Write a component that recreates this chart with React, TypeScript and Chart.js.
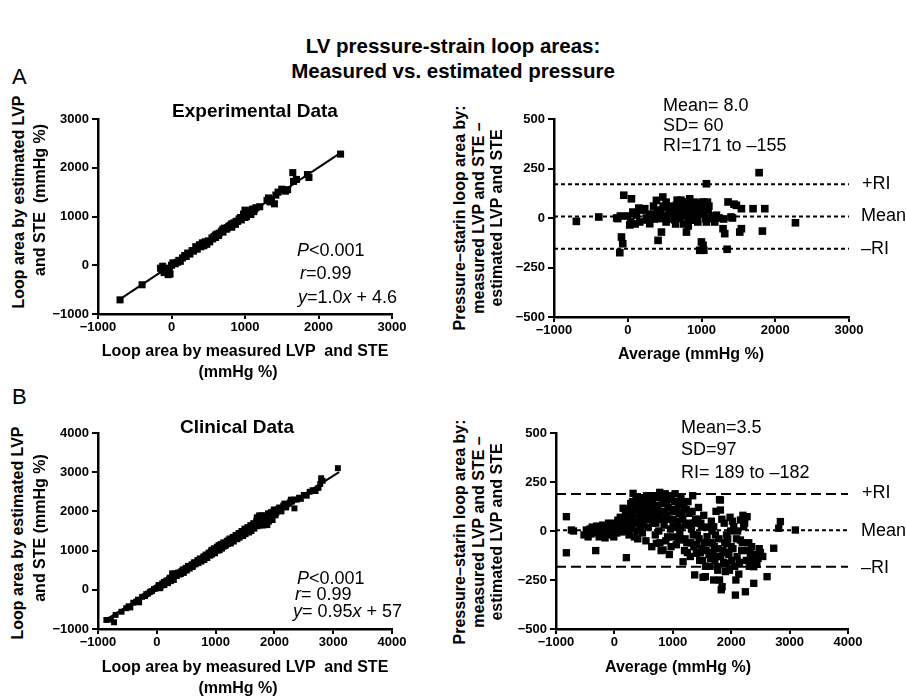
import React, { useEffect, useRef } from "react";
import { Chart, registerables } from "chart.js";

Chart.register(...registerables);

const FONT = "'Liberation Sans', Arial, Helvetica, sans-serif";

// ---------- tick labels ----------
const expTicks = [-1000, 0, 1000, 2000, 3000];
const diffTicks = [-500, -250, 0, 250, 500];
const clinTicks = [-1000, 0, 1000, 2000, 3000, 4000];

// ---------- A: experimental, measured (x) vs estimated (y) ----------
const expMeasuredVsEstimated: [number, number][] = [
  [-700, -710], [-400, -400], [-150, -60], [-120, -20], [-100, -150], [-80, -110], [-60, -90],
  [-50, -150], [-20, -180], [-45, -192], [0, 0], [20, 50], [50, 30], [80, 60], [100, 100],
  [120, 80], [150, 150], [180, 200], [200, 180], [220, 250], [250, 230], [280, 300], [300, 290],
  [330, 380], [350, 330], [380, 420], [400, 380], [420, 460], [440, 400], [460, 480], [480, 430],
  [500, 500], [520, 480], [550, 560], [580, 590], [600, 570], [620, 640], [650, 660], [680, 700],
  [700, 680], [720, 760], [750, 740], [780, 800], [800, 820], [820, 780], [850, 870], [870, 840],
  [900, 900], [920, 950], [950, 930], [980, 1050], [1000, 980], [1000, 1130], [1020, 1000],
  [1050, 1080], [1080, 1040], [1100, 1150], [1120, 1100], [1150, 1180], [1200, 1200], [1300, 1330],
  [1320, 1380], [1340, 1300], [1360, 1350], [1400, 1260], [1420, 1440], [1450, 1500], [1500, 1560],
  [1550, 1520], [1580, 1550], [1650, 1900], [1660, 1720], [1700, 1760], [1850, 1860], [1870, 1800],
  [2300, 2280], [560, 540], [600, 620], [640, 610], [700, 740], [760, 770], [820, 850], [880, 900],
  [940, 980], [1020, 1060], [1070, 1120], [1130, 1150], [-130, -100], [-30, -60],
];
const expFitLine: [number, number][] = [[-700, -695], [2300, 2305]];

// ---------- A: experimental, average (x) vs difference (y) ----------
const expAvgVsDiff: [number, number][] = [
  [-697, -17], [-393, 5], [-136, -3], [-108, -175], [-85, -96], [-68, -130], [-54, 115], [50, 97],
  [27, -35], [0, 10], [40, -20], [70, 30], [118, 15], [163, -20], [200, 40], [230, 47], [260, -10],
  [298, -29], [298, 14], [330, 20], [360, -5], [389, 89], [400, 30], [411, -113], [434, -3],
  [457, -71], [475, 106], [450, 40], [500, 10], [520, -20], [545, 55], [570, 30], [600, 0],
  [620, 60], [640, -10], [660, 64], [680, 25], [705, -3], [720, 90], [740, 40], [750, 81],
  [760, -30], [780, 10], [796, -71], [800, 50], [820, -40], [840, 97], [860, 20], [880, -10],
  [900, 60], [932, 30], [950, -20], [976, -163], [999, -121], [1000, 75], [1021, 81], [1021, -138],
  [1031, -163], [1044, 30], [1060, -5], [1067, -20], [1067, 173], [1090, 40], [1112, -3],
  [1150, 10], [1202, 14], [1240, 0], [1292, -54], [1315, -79], [1347, -158], [1360, 81], [1400, 5],
  [1440, 70], [1473, 64], [1519, -71], [1541, 47], [1541, -54], [1699, 47], [1781, 229],
  [1826, -66], [1858, 47], [2274, -24], [-150, 0], [-100, 10], [100, -30], [150, 50], [250, 0],
  [350, 60], [550, -5], [650, -30], [700, 70], [850, -10], [950, 40], [1100, 60], [1180, -20],
  [1300, -5], [1420, 0], [480, 60], [520, 80], [560, 20], [590, 50], [630, 30], [670, 90],
  [690, 10], [710, 50], [730, 20], [770, 60], [790, 30], [810, 80], [830, 0], [870, 60], [890, 30],
  [910, 80], [940, 0], [960, 60], [980, 20], [1030, 40], [1080, 80],
];
const expMean = 8.0;
const expUpperRI = 171;
const expLowerRI = -155;

// ---------- B: clinical, measured (x) vs estimated (y) ----------
const clinMeasuredVsEstimated: [number, number][] = [
  [-858, -769], [-780, -760], [-727, -829], [-700, -640], [-600, -560], [-520, -470], [-480, -420],
  [-450, -450], [-400, -330], [-350, -300], [-320, -250], [-300, -320], [-250, -180], [-200, -160],
  [-180, -110], [-150, -100], [-120, -60], [-100, -40], [-80, -30], [-50, 20], [-20, 30], [0, 50],
  [20, 60], [50, 120], [80, 110], [100, 150], [120, 200], [150, 180], [180, 240], [200, 230],
  [220, 310], [250, 280], [260, 420], [280, 300], [300, 360], [320, 380], [350, 410], [380, 390],
  [400, 450], [420, 480], [450, 470], [480, 520], [500, 540], [520, 560], [550, 600], [580, 580],
  [600, 640], [620, 620], [650, 700], [680, 690], [700, 720], [720, 760], [750, 760], [780, 800],
  [800, 790], [820, 860], [850, 850], [870, 900], [900, 920], [920, 980], [940, 900], [960, 1000],
  [980, 960], [1000, 1040], [1020, 1100], [1040, 1000], [1060, 1060], [1080, 1130], [1100, 1080],
  [1120, 1160], [1140, 1100], [1160, 1200], [1180, 1150], [1200, 1220], [1220, 1280], [1250, 1230],
  [1280, 1300], [1300, 1260], [1320, 1350], [1350, 1320], [1380, 1400], [1400, 1380], [1420, 1440],
  [1450, 1420], [1480, 1460], [1500, 1520], [1520, 1480], [1550, 1540], [1580, 1600], [1600, 1560],
  [1620, 1640], [1650, 1600], [1680, 1660], [1700, 1850], [1720, 1700], [1750, 1720], [1780, 1900],
  [1800, 1760], [1820, 1700], [1850, 1800], [1880, 1650], [1900, 1820], [1920, 1900], [1950, 1820],
  [1980, 2000], [2000, 1950], [2020, 1900], [2050, 2000], [2080, 2100], [2100, 2050], [2150, 2150],
  [2200, 2100], [2250, 2200], [2280, 2300], [2300, 2250], [2341, 2077], [2380, 2300], [2420, 2350],
  [2500, 2420], [2550, 2400], [2600, 2500], [2700, 2520], [2780, 2700], [2795, 2846], [2820, 2780],
  [3080, 3103],
  [30, 120], [60, 40], [90, 160], [130, 120], [160, 230], [190, 170], [210, 280], [240, 220],
  [270, 330], [290, 250], [310, 420], [340, 350], [360, 440], [390, 430], [410, 400], [440, 520],
  [460, 430], [490, 560], [510, 490], [530, 610], [560, 540], [590, 650], [610, 580], [630, 700],
  [660, 650], [690, 760], [710, 680], [730, 800], [760, 720], [790, 850], [810, 760], [830, 900],
  [860, 810], [880, 950], [910, 870], [930, 1020], [950, 960], [970, 1060], [990, 930], [1010, 1000],
  [1030, 1060], [1050, 1140], [1070, 1010], [1090, 1170], [1110, 1050], [1130, 1210], [1170, 1120],
  [1190, 1250], [1210, 1170], [1240, 1310], [1260, 1180], [1290, 1350], [1310, 1230], [1340, 1400],
  [1370, 1290], [1390, 1450], [1410, 1330], [1440, 1500], [1470, 1370], [1490, 1560], [1510, 1420],
  [1540, 1600], [1570, 1460], [1590, 1650], [1610, 1500], [1640, 1700], [1660, 1560], [1690, 1760],
  [1710, 1620], [1740, 1900], [1760, 1640], [1790, 1800], [1810, 1640], [1840, 1900], [1860, 1720],
  [1890, 1950], [1910, 1740], [1940, 1980], [1970, 1780], [1990, 2050], [2030, 1960], [2060, 2060],
  [2120, 2000], [2170, 2200], [2220, 2180], [2270, 2250], [2330, 2300], [2450, 2320], [2650, 2540],
  [2750, 2600],
];
const clinFitLine: [number, number][] = [[-800, -703], [3100, 3002]];

// ---------- B: clinical, average (x) vs difference (y) ----------
const clinAvgVsDiff: [number, number][] = [
  [-822, 73], [-822, -111], [-736, 5], [-700, 0], [-520, -20], [-480, 5], [-450, -30], [-420, 10],
  [-400, -15], [-380, 20], [-350, -5], [-320, -100], [-300, 25], [-280, -10], [-250, 15], [-220, -25],
  [-200, 30], [-180, 0], [-150, 20], [-120, -15], [-100, 40], [-80, 10], [-60, -20], [-40, 35],
  [-20, 0], [0, 25], [20, 40], [40, -10], [60, 55], [80, 20], [100, 70], [120, -5], [140, 35],
  [149, 116], [149, 56], [170, 0], [190, 85], [205, -136], [210, 30], [230, 110], [250, -20],
  [260, 60], [280, 140], [300, 10], [320, 192], [320, 90], [340, -30], [360, 50], [380, 120],
  [400, -40], [420, 70], [433, 141], [440, 20], [460, 170], [480, -10], [490, 100], [500, 50],
  [520, 150], [540, -50], [560, 80], [580, 20], [605, 90], [620, 180], [640, -80], [660, 40],
  [680, 130], [700, -20], [719, -63], [730, 100], [750, 170], [760, 0], [776, 197], [790, 60],
  [800, -100], [820, 140], [833, -97], [850, 30], [870, 190], [880, -50], [900, 80], [920, 120],
  [940, -120], [960, 10], [980, 160], [1000, -30], [1005, 22], [1020, 100], [1040, 190], [1060, -70],
  [1080, 50], [1100, 140], [1120, -10], [1140, 170], [1160, 80], [1176, -157], [1176, -46],
  [1190, 120], [1200, -100], [1220, 30], [1240, -60], [1260, 150], [1290, 90], [1300, -130],
  [1320, 10], [1340, 180], [1360, -80], [1375, -224], [1390, 60], [1404, -114], [1420, -20],
  [1440, 120], [1460, -150], [1480, 40], [1500, -90], [1518, -236], [1530, 80], [1558, -233],
  [1560, -180], [1587, -29], [1600, 20], [1620, -120], [1644, -114], [1660, 50], [1680, -60],
  [1700, -250], [1700, 22], [1720, -150], [1740, 100], [1758, -182], [1770, -200], [1790, -40],
  [1800, 160], [1815, 158], [1815, 107], [1830, -300], [1844, -284], [1860, -100], [1880, 40],
  [1901, -207], [1920, -20], [1929, -63], [1929, -165], [1960, -120], [1980, 70], [2000, -80],
  [2020, 50], [2043, 22], [2060, -180], [2072, -327], [2090, -40], [2101, -131], [2130, -220],
  [2158, 56], [2158, -46], [2180, -100], [2200, 80], [2214, 22], [2243, -310], [2260, -150],
  [2272, 73], [2300, -60], [2329, -114], [2358, -148], [2386, -182], [2386, -267], [2420, -120],
  [2460, -140], [2500, -110], [2540, -130], [2614, -233], [2728, -88], [2814, 14], [2842, 48],
  [3099, 5],
  [210, 80], [240, 20], [270, 100], [290, 60], [310, 150], [330, 40], [350, 110], [370, 170],
  [390, 0], [410, 130], [430, 60], [450, 100], [470, 30], [510, 120], [530, 70], [550, 180],
  [570, 130], [590, 60], [610, 150], [630, 100], [650, 160], [670, 70], [690, 180], [710, 40],
  [740, 130], [770, 90], [780, -60], [810, 60], [840, 170], [860, 100], [890, 150], [910, -30],
  [930, 60], [950, 180], [970, -80], [990, 110], [1010, 60], [1030, 150], [1050, 20], [1070, 110],
  [1090, -40], [1110, 90], [1130, 20], [1150, 150], [1170, 60], [1210, -40], [1230, 110],
  [1250, -110], [1270, 40], [1310, -60], [1330, 100], [1350, -20], [1370, 40], [1410, -70],
  [1430, 60], [1450, -40], [1470, -110], [1490, 20], [1510, -150], [1540, -60], [1570, -100],
  [1610, -60], [1630, -180], [1650, -140], [1670, 0], [1690, -110], [1710, -80], [1730, -20],
  [1750, -130], [1780, -90], [1800, -250], [1820, -130], [1840, 60], [1870, -160], [1890, -60],
  [1910, -110], [1940, -40], [1970, -200], [1990, 0], [2010, -150], [2030, -90], [2080, -250],
  [2110, 0], [2140, -160], [2190, -60], [2230, 40], [2280, -100], [2310, -180], [2350, -80],
  [2440, -170], [2480, -90], [-10, -30], [-60, 15], [-260, -30], [-160, -35],
];
const clinMean = 3.5;
const clinUpperRI = 189;
const clinLowerRI = -182;

// ---------- helpers ----------
const pts = (arr: [number, number][]) => arr.map(([x, y]) => ({ x, y }));

const scatterSet = (arr: [number, number][], r: number) => ({
  type: "scatter",
  data: pts(arr),
  pointStyle: "rect",
  pointRadius: r,
  pointHoverRadius: r,
  backgroundColor: "#000",
  borderColor: "#000",
  borderWidth: 0,
  showLine: false,
  order: 2,
});

const lineSet = (arr: [number, number][], dash: number[], width = 2) => ({
  type: "line",
  data: pts(arr),
  borderColor: "#000",
  borderWidth: width,
  borderDash: dash,
  pointRadius: 0,
  pointHoverRadius: 0,
  fill: false,
  tension: 0,
  order: 1,
});

const hLine = (y: number, ticks: number[], dash: number[]) =>
  lineSet([[ticks[0], y], [ticks[ticks.length - 1], y]], dash, 2);

type Area = { l: number; t: number; r: number; b: number };
const YW = 62;
const XH = 30;
const PT = 12;
const PR = 26;

function Panel({ area, xTicks, yTicks, datasets }: { area: Area; xTicks: number[]; yTicks: number[]; datasets: any[] }) {
  const ref = useRef<HTMLCanvasElement | null>(null);
  const w = area.r - area.l + YW + PR;
  const h = area.b - area.t + PT + XH;
  useEffect(() => {
    if (!ref.current) return;
    const fmt = (v: any) => {
      const n = Number(v);
      return n < 0 ? "\u2212" + Math.abs(n) : String(n);
    };
    const axis = (ticks: number[], isX: boolean) => ({
      type: "linear",
      min: ticks[0],
      max: ticks[ticks.length - 1],
      afterBuildTicks: (s: any) => {
        s.ticks = ticks.map((v) => ({ value: v }));
      },
      afterFit: (s: any) => {
        if (isX) s.height = XH;
        else s.width = YW;
      },
      grid: {
        display: true,
        drawOnChartArea: false,
        drawTicks: true,
        tickLength: isX ? 5 : 6,
        color: "#000",
        lineWidth: 2,
      },
      border: { display: true, color: "#000", width: 2.5 },
      ticks: {
        color: "#000",
        font: { family: FONT, size: 13, weight: "bold" },
        padding: isX ? 1 : 3,
        maxRotation: 0,
        autoSkip: false,
        callback: fmt,
      },
    });
    const chart = new Chart(ref.current, {
      type: "scatter",
      data: { datasets },
      options: {
        animation: false,
        responsive: false,
        devicePixelRatio: 1,
        layout: { padding: { top: PT, right: PR, left: 0, bottom: 0 } },
        plugins: { legend: { display: false }, tooltip: { enabled: false } },
        scales: { x: axis(xTicks, true), y: axis(yTicks, false) },
      },
    } as any);
    return () => chart.destroy();
  }, []);
  return (
    <canvas
      ref={ref}
      width={w}
      height={h}
      style={{ position: "absolute", left: area.l - YW, top: area.t - PT, width: w, height: h }}
    />
  );
}

function Txt({
  x, y, size = 16, bold = false, align = "left", rotate = false, children,
}: { x: number; y: number; size?: number; bold?: boolean; align?: "left" | "center"; rotate?: boolean; children: any }) {
  const style: React.CSSProperties = {
    position: "absolute",
    left: x,
    top: y,
    fontFamily: FONT,
    fontSize: size,
    fontWeight: bold ? 700 : 400,
    whiteSpace: "pre",
    lineHeight: 1,
    color: "#000",
    transform: rotate
      ? "translate(-50%,-50%) rotate(-90deg)"
      : align === "center"
      ? "translate(-50%,-50%)"
      : "translate(0,-50%)",
  };
  return <div style={style}>{children}</div>;
}

export default function App() {
  return (
    <div style={{ position: "absolute", left: 0, top: 0, width: 906, height: 697, background: "#fff", overflow: "hidden" }}>
      <Panel
        area={{ l: 98, t: 119, r: 392, b: 314 }}
        xTicks={expTicks}
        yTicks={expTicks}
        datasets={[scatterSet(expMeasuredVsEstimated, 5), lineSet(expFitLine, [], 2)]}
      />
      <Panel
        area={{ l: 554, t: 119, r: 849, b: 317 }}
        xTicks={expTicks}
        yTicks={diffTicks}
        datasets={[
          scatterSet(expAvgVsDiff, 5.4),
          hLine(expUpperRI, expTicks, [4, 3]),
          hLine(expMean, expTicks, [4, 3]),
          hLine(expLowerRI, expTicks, [4, 3]),
        ]}
      />
      <Panel
        area={{ l: 98, t: 433, r: 392, b: 629 }}
        xTicks={clinTicks}
        yTicks={clinTicks}
        datasets={[scatterSet(clinMeasuredVsEstimated, 4.2), lineSet(clinFitLine, [], 2)]}
      />
      <Panel
        area={{ l: 556, t: 433, r: 848, b: 629 }}
        xTicks={clinTicks}
        yTicks={diffTicks}
        datasets={[
          scatterSet(clinAvgVsDiff, 5.2),
          hLine(clinUpperRI, clinTicks, [10, 5]),
          hLine(clinMean, clinTicks, [4, 3]),
          hLine(clinLowerRI, clinTicks, [10, 5]),
        ]}
      />

      {/* main title */}
      <Txt x={453} y={46} size={20.5} bold align="center">LV pressure-strain loop areas:</Txt>
      <Txt x={453} y={71} size={20.5} bold align="center">Measured vs. estimated pressure</Txt>
      <Txt x={12} y={77} size={22}>A</Txt>
      <Txt x={12} y={397} size={22}>B</Txt>

      {/* A left */}
      <Txt x={255} y={110} size={19} bold align="center">Experimental Data</Txt>
      <Txt x={19} y={202} size={16} bold rotate>Loop area by estimated LVP</Txt>
      <Txt x={40} y={200} size={16} bold rotate>{"and STE  (mmHg %)"}</Txt>
      <Txt x={245} y={351} size={16} bold align="center">{"Loop area by measured LVP  and STE"}</Txt>
      <Txt x={238} y={372} size={16} bold align="center">(mmHg %)</Txt>
      <Txt x={297} y={250} size={18}><i>P</i>{"<0.001"}</Txt>
      <Txt x={300} y={273} size={18}><i>r</i>=0.99</Txt>
      <Txt x={298} y={297} size={18}><i>y</i>=1.0<i>x</i> + 4.6</Txt>

      {/* A right */}
      <Txt x={460} y={218} size={16} bold rotate>Pressure–starin loop area by:</Txt>
      <Txt x={479} y={218} size={16} bold rotate>measured LVP and STE –</Txt>
      <Txt x={497} y={218} size={16} bold rotate>estimated LVP and STE</Txt>
      <Txt x={691} y={354} size={16} bold align="center">Average (mmHg %)</Txt>
      <Txt x={663} y={105} size={18}>Mean= 8.0</Txt>
      <Txt x={663} y={125} size={18}>SD= 60</Txt>
      <Txt x={663} y={145} size={18}>RI=171 to –155</Txt>
      <Txt x={862} y={183} size={18}>+RI</Txt>
      <Txt x={861} y={215} size={18}>Mean</Txt>
      <Txt x={861} y={248} size={18}>–RI</Txt>

      {/* B left */}
      <Txt x={237} y={426} size={19} bold align="center">Clinical Data</Txt>
      <Txt x={18} y={533} size={16} bold rotate>Loop area by estimated LVP</Txt>
      <Txt x={40} y={528} size={16} bold rotate>and STE (mmHg %)</Txt>
      <Txt x={245} y={667} size={16} bold align="center">{"Loop area by measured LVP  and STE"}</Txt>
      <Txt x={238} y={688} size={16} bold align="center">(mmHg %)</Txt>
      <Txt x={297} y={578} size={18}><i>P</i>{"<0.001"}</Txt>
      <Txt x={295} y={594} size={18}><i>r</i>= 0.99</Txt>
      <Txt x={293} y={611} size={18}><i>y</i>= 0.95<i>x</i> + 57</Txt>

      {/* B right */}
      <Txt x={460} y={532} size={16} bold rotate>Pressure–starin loop area by:</Txt>
      <Txt x={479} y={532} size={16} bold rotate>measured LVP and STE –</Txt>
      <Txt x={497} y={532} size={16} bold rotate>estimated LVP and STE</Txt>
      <Txt x={678} y={667} size={16} bold align="center">Average (mmHg %)</Txt>
      <Txt x={681} y={427} size={18}>Mean=3.5</Txt>
      <Txt x={681} y={449} size={18}>SD=97</Txt>
      <Txt x={681} y={472} size={18}>RI= 189 to –182</Txt>
      <Txt x={862} y={492} size={18}>+RI</Txt>
      <Txt x={861} y={530} size={18}>Mean</Txt>
      <Txt x={861} y={567} size={18}>–RI</Txt>
    </div>
  );
}
